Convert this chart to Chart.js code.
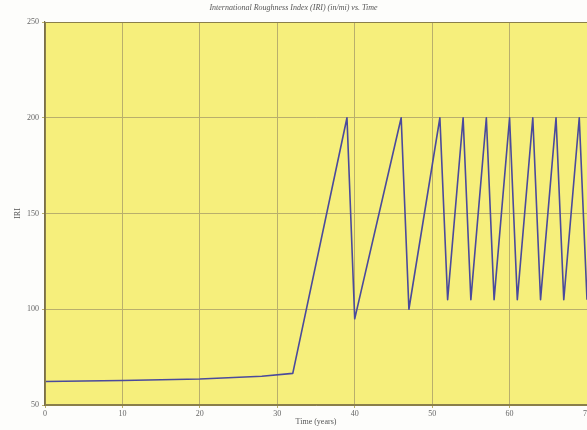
<!DOCTYPE html>
<html><head><meta charset="utf-8">
<script src="https://cdn.jsdelivr.net/npm/chart.js@4/dist/chart.umd.min.js"></script>
<style>html,body{margin:0;padding:0;background:#fdfdfb}#w{width:587px;height:430px}</style>
</head><body><div id="w"><canvas id="c"></canvas></div>
<script>
const years = [0, 10, 20, 28, 32, 39, 40, 46, 47, 51, 52, 54, 55, 57, 58, 60, 61, 63, 64, 66, 67, 69, 70];
const iri   = [62.3, 62.8, 63.6, 65, 66.5, 200, 95, 200, 100, 200, 105, 200, 105, 200, 105, 200, 105, 200, 105, 200, 105, 200, 105];
const xTicks = [0, 10, 20, 30, 40, 50, 60, 70];
const yTicks = [50, 100, 150, 200, 250];

const bgPlugin = {
  id: 'bg',
  beforeDraw(chart) {
    const {ctx, chartArea: a} = chart;
    ctx.save();
    ctx.fillStyle = '#f6ef7c';
    ctx.fillRect(a.left, a.top, a.right - a.left, a.bottom - a.top);
    ctx.restore();
  },
  afterDatasetsDraw(chart) {
    const {ctx, chartArea: a} = chart;
    ctx.save();
    ctx.strokeStyle = '#8a7f4a';
    ctx.lineWidth = 1;
    ctx.strokeRect(a.left + 0.5, a.top + 0.5, a.right - a.left, a.bottom - a.top - 1);
    ctx.restore();
  }
};

const serif = 'Liberation Serif';
new Chart(document.getElementById('c'), {
  type: 'line',
  data: {
    datasets: [{
      data: years.map((x, i) => ({x, y: iri[i]})),
      borderColor: '#4a4a9c',
      borderWidth: 1.6,
      borderJoinStyle: 'round',
      pointRadius: 0,
      tension: 0,
      fill: false
    }]
  },
  plugins: [bgPlugin],
  options: {
    responsive: true,
    maintainAspectRatio: false,
    animation: false,
    layout: {padding: {left: 0, right: 0, top: 0, bottom: 0}},
    plugins: {
      legend: {display: false},
      tooltip: {enabled: false},
      title: {
        display: true,
        text: 'International Roughness Index (IRI) (in/mi) vs. Time',
        color: '#555',
        font: {family: serif, size: 8, style: 'italic', weight: 'normal', lineHeight: 1.2},
        padding: {top: 3, bottom: 9.4}
      }
    },
    scales: {
      x: {
        type: 'linear',
        min: 0, max: 70,
        afterBuildTicks(s) { s.ticks = xTicks.map(v => ({value: v})); },
        afterFit(s) { s.height = 25; s.paddingLeft = 0; s.paddingRight = 0; },
        grid: {color: '#b9af6c', lineWidth: 1, drawTicks: true, tickLength: 3},
        border: {display: true, color: '#8a7f4a'},
        ticks: {color: '#666', font: {family: serif, size: 8}, padding: 1, maxRotation: 0},
        title: {display: true, text: 'Time (years)', color: '#555', font: {family: serif, size: 8}, padding: {top: 0, bottom: 3}}
      },
      y: {
        min: 50, max: 250,
        afterBuildTicks(s) { s.ticks = yTicks.map(v => ({value: v})); },
        afterFit(s) { s.width = 45; s.paddingTop = 0; s.paddingBottom = 0; },
        grid: {color: '#b9af6c', lineWidth: 1, drawTicks: true, tickLength: 3},
        border: {display: true, color: '#7a6f4a', width: 1.2},
        ticks: {color: '#666', font: {family: serif, size: 8}, padding: 3},
        title: {display: true, text: 'IRI', color: '#555', font: {family: serif, size: 8}, padding: {top: 13, bottom: 0}}
      }
    }
  }
});
</script>
</body></html>
